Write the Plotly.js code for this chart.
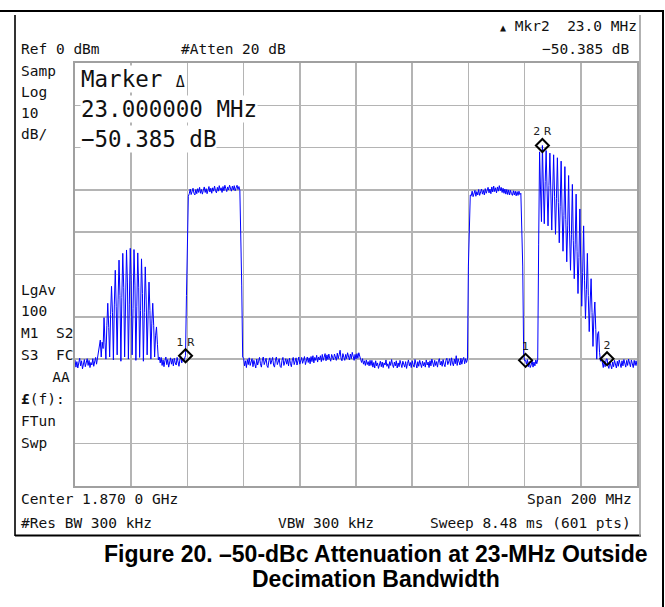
<!DOCTYPE html>
<html><head><meta charset="utf-8">
<script src="https://cdn.plot.ly/plotly-3.0.1.min.js"></script>
<style>html,body{margin:0;padding:0;background:#fff;overflow:hidden}</style>
</head><body><div id="chart" style="width:665px;height:607px"></div>
<script>
// Sweep settings (from the analyzer annotations)
const centerMHz = 1870, spanMHz = 200, sweepPoints = 601;
const refLevelDbm = 0, dbPerDiv = 10;

// Trace levels (dBm), segment by segment along the sweep
const noiseLeft = [-70.2,-71.9,-70.6,-72.1,-70.9,-69.8,-71.6,-70.4,-72.3,-71.0,-70.1,-71.8,-70.7,-69.9,-71.5,-70.3,-72.0,-70.8,-71.4,-69.9,-71.7,-70.5,-69.6,-71.2,-69.5];
const humpLeft = [-69.0,-66.5,-65.5,-69.5,-66.0,-67.5,-60.2,-66.0,-70.0,-62.0,-56.8,-62.5,-69.5,-59.5,-52.8,-59.0,-70.2,-57.0,-49.0,-57.5,-69.0,-56.0,-46.6,-55.0,-70.5,-55.5,-45.0,-53.0,-69.5,-56.5,-44.2,-52.0,-70.0,-57.0,-43.8,-51.5,-69.0,-58.0,-44.1,-52.5,-70.3,-57.5,-44.9,-53.0,-69.6,-58.5,-46.3,-54.5,-70.5,-59.0,-48.2,-56.0,-69.0,-60.0,-51.8,-58.5,-70.0,-61.5,-56.8,-62.0,-69.5,-64.5,-62.4,-66.5,-70.2,-69.5];
const noiseGap1 = [-70.9,-69.6,-71.5,-70.2,-71.8,-70.4,-69.5,-71.3,-70.1,-71.9,-70.6,-69.7,-71.2,-70.0,-71.6,-69.8,-70.9,-71.4,-69.6,-70.8,-71.7,-70.1,-69.4,-70.9,-69.8,-70.5,-69.9];
const riseBand1 = [-69.2,-55.0,-40.5,-31.5];
const plateau1 = [-30.9,-29.8,-31.1,-30.2,-29.6,-30.8,-31.2,-29.9,-30.9,-29.7,
 -30.6,-29.4,-30.8,-29.9,-31.0,-30.1,-29.3,-30.6,-29.7,-30.9,
 -30.0,-29.2,-30.5,-29.6,-30.8,-29.5,-30.3,-29.1,-30.2,-30.7,
 -29.4,-30.3,-29.0,-30.1,-29.5,-30.6,-29.2,-30.2,-28.9,-29.9,
 -30.4,-29.3,-30.0,-28.9,-29.9,-30.3,-29.1,-30.0,-29.0,-30.2,
 -29.5,-28.9,-29.9,-29.2,-30.1];
const fallBand1 = [-40.0,-52.5,-69.5];
const noiseMidA = [-69.8,-71.6,-70.4,-72.0,-70.1,-71.3,-69.7,-71.5,-70.6,-69.9,
 -71.8,-70.3,-71.2,-72.1,-70.0,-71.4,-70.5,-69.6,-71.1,-71.9,
 -70.2,-69.5,-71.3,-70.7,-69.8,-71.6,-72.0,-70.4,-69.7,-71.2,
 -70.5,-69.6,-71.4,-71.9,-70.2,-69.5,-71.3,-70.6,-69.9,-71.7,
 -72.0,-70.3,-69.6,-71.5,-70.8,-69.9,-71.2,-70.1,-71.6,-69.8,
 -71.0,-71.8,-70.2,-69.6,-71.3,-70.5,-69.7,-71.4,-70.0,-69.5,
 -71.2,-70.4,-69.6,-71.0,-70.3,-69.4,-71.3,-70.0,-69.5,-70.8,
 -69.7,-71.1,-69.4,-70.6,-69.2,-70.9,-69.6,-70.3,-69.1,-70.7,
 -69.5,-70.2];
const noiseMidB = [-69.2,-70.6,-68.9,-70.3,-69.5,-68.7,-70.4,-69.0,-70.1,-68.8,
 -69.9,-70.5,-68.9,-69.4,-70.2,-68.8,-69.7,-70.3,-68.6,-69.9,
 -69.0,-67.9,-69.8,-70.4,-68.7,-69.6,-70.3,-68.9,-69.9,-68.5,
 -69.7,-70.2,-68.8,-69.9,-68.4,-69.6,-70.3,-68.9,-70.0,-68.7,
 -69.8,-68.5,-69.6,-70.1,-70.8,-69.9,-71.2,-70.4,-71.5,-70.2,
 -71.3,-70.6,-71.6,-70.3];
const noiseMidC = [-71.5,-70.3,-71.9,-70.8,-72.1,-70.4,-71.6,-70.9,-72.2,-71.0,
 -70.5,-71.8,-70.7,-72.0,-70.9,-71.4,-70.2,-71.7,-71.1,-72.2,
 -70.6,-71.5,-70.1,-71.3,-72.0,-70.7,-71.6,-70.4,-72.1,-70.9,
 -71.8,-70.3,-71.2,-72.0,-70.5,-71.4,-71.9,-70.6,-72.2,-71.0,
 -70.2,-71.6,-70.8,-72.0,-70.4,-71.3,-71.9,-70.1,-71.5,-72.1,
 -70.6,-71.7,-70.3,-71.2,-72.0,-70.5,-71.6,-70.8,-71.9,-70.2,
 -71.4,-70.7,-72.0,-70.4,-71.6,-70.0,-71.3,-71.8,-70.3,-71.5,
 -70.6,-71.9,-70.4,-69.9,-71.4,-70.5,-71.7,-70.1,-71.2,-71.8,
 -70.3,-69.8,-71.3,-70.7,-69.9,-71.5,-69.7,-70.9,-71.6,-70.0,
 -71.1,-69.2,-71.5,-69.9,-71.0,-71.4,-69.8,-71.2,-70.1,-69.6,
 -71.1,-69.9,-70.8];
const riseBand2 = [-70.0,-48.0,-39.5,-31.2];
const plateau2 = [-31.4,-30.3,-31.6,-30.6,-30.1,-31.5,-30.4,-31.2,-29.9,-31.3,
 -30.2,-29.8,-31.0,-30.1,-31.2,-29.7,-30.8,-30.0,-29.4,-30.7,
 -29.8,-30.9,-29.3,-30.5,-29.1,-30.4,-29.5,-30.7,-29.3,-30.3,
 -29.0,-30.2,-29.4,-30.6,-29.6,-30.8,-29.8,-31.0,-29.9,-31.1,
 -30.0,-31.2,-30.1,-30.9,-31.3,-30.2,-31.2,-30.3,-31.4,-30.4,
 -31.3,-30.3,-31.1];
const fallBand2 = [-30.8,-39.5,-48.0,-69.0,-70.4,-70.3];
const noiseGap2 = [-71.2,-70.1,-71.8,-70.6,-72.0,-71.4,-70.3,-71.9,-70.7,-71.6,-70.2,-71.1,-70.2,-43.0];
const humpRight = [-21.0,-30.0,-37.5,-19.5,-29.5,-38.0,-28.0,-20.7,-30.0,-38.5,
 -29.0,-21.3,-30.5,-39.5,-30.5,-21.7,-31.5,-40.5,-32.0,-22.4,
 -33.0,-42.5,-34.0,-23.2,-35.0,-44.5,-36.0,-24.5,-37.0,-47.0,
 -38.5,-26.6,-40.0,-49.0,-40.5,-28.7,-42.0,-51.0,-43.0,-31.0,
 -44.5,-54.5,-46.0,-34.5,-48.0,-57.5,-49.5,-38.5,-51.5,-60.5,
 -53.5,-45.0,-55.0,-63.5,-56.5,-51.0,-59.0,-67.0,-60.0,-56.5,
 -63.0,-70.0,-64.0,-63.5,-68.4,-70.5];
const noiseRight = [-69.6,-71.4,-72.0,-70.4,-71.8,-70.1,-69.9,-71.5,-72.2,-70.6,
 -71.9,-72.3,-70.7,-71.8,-70.3,-71.6,-72.1,-70.5,-71.7,-70.2,
 -71.4,-72.0,-70.4,-71.6,-70.1,-71.3,-71.9,-70.3,-71.5,-70.0,
 -71.2,-71.8,-70.2,-71.4,-72.0,-70.3,-71.5,-70.4,-71.6];

// Markers: sweep point index of each marker and its label
const markerPoint = [118, 481, 499, 568];
const markerLabel = ['1 R', '1', '2 R', '2'];

const levelDbm = [].concat(noiseLeft, humpLeft, noiseGap1, riseBand1, plateau1, fallBand1,
  noiseMidA, noiseMidB, noiseMidC, riseBand2, plateau2, fallBand2, noiseGap2, humpRight, noiseRight);
const startMHz = centerMHz - spanMHz / 2;
const freqMHz = levelDbm.map((_, i) => startMHz + i * spanMHz / (sweepPoints - 1));

// pixel helpers for text / frame placement
const PL = 75, PR = 637, PT = 63, PB = 486;
const fx = px => (px - PL) / (PR - PL);
const fy = py => (PB - py) / (PB - PT);

const mono = 'DejaVu Sans Mono, Liberation Mono, monospace';
const ann = (text, px, py, anchor, size, extra) => Object.assign({
  text, x: fx(px), y: fy(py), xref: 'paper', yref: 'paper',
  xanchor: anchor, yanchor: 'middle', showarrow: false,
  font: { family: mono, size: size || 14.5, color: '#111' }
}, extra || {});
const nb = s => s.replace(/ /g, '\u00a0');
const capFont = { family: 'Liberation Sans, Arial, sans-serif', size: 23, color: '#000' };

const annotations = [
  ann('<span style="font-size:10px">▲</span>' + nb(' Mkr2  23.0 MHz'), 639, 26, 'right'),
  ann(nb('−50.385 dB'), 632, 49, 'right'),
  ann(nb('Ref 0 dBm'), 19, 49, 'left'),
  ann(nb('#Atten 20 dB'), 179, 49, 'left'),
  ann('Samp', 19, 71, 'left'),
  ann('Log', 19, 92, 'left'),
  ann('10', 19, 113, 'left'),
  ann('dB/', 19, 134, 'left'),
  ann('LgAv', 19, 290, 'left'),
  ann('100', 19, 311, 'left'),
  ann(nb('M1  S2'), 19, 333, 'left'),
  ann(nb('S3  FC'), 19, 355, 'left'),
  ann(nb('   AA'), 24, 377, 'left'),
  ann('<b>£</b>(f):', 19, 399, 'left'),
  ann('FTun', 19, 421, 'left'),
  ann('Swp', 19, 443, 'left'),
  ann(nb('Marker ') + '<span style="font-size:15px">Δ</span>', 80, 79, 'left', 22.5, { bgcolor: '#fff', borderpad: 0 }),
  ann(nb('23.000000 MHz'), 80, 109, 'left', 22.5, { bgcolor: '#fff', borderpad: 0 }),
  ann(nb('−50.385 dB'), 80, 139, 'left', 22.5, { bgcolor: '#fff', borderpad: 0 }),
  ann(nb('Center 1.870 0 GHz'), 19, 499, 'left'),
  ann(nb('Span 200 MHz'), 634, 499, 'right'),
  ann(nb('#Res BW 300 kHz'), 19, 523, 'left'),
  ann(nb('VBW 300 kHz'), 276, 523, 'left'),
  ann(nb('Sweep 8.48 ms (601 pts)'), 633, 523, 'right'),
  ann('<b>Figure 20. –50-dBc Attenuation at 23-MHz Outside</b>', 376, 554, 'center', 23, { font: capFont }),
  ann('<b>Decimation Bandwidth</b>', 376, 579, 'center', 23, { font: capFont })
];

const line = (x0, y0, x1, y1, color, width) => ({
  type: 'line', xref: 'paper', yref: 'paper', layer: 'above',
  x0: fx(x0), y0: fy(y0), x1: fx(x1), y1: fy(y1),
  line: { color, width }
});
const shapes = [
  line(0, 11, 664, 11, '#000', 2),
  line(663, 11, 663, 607, '#000', 2),
  line(15, 15, 15, 536, '#333', 2),
  line(15, 535.5, 641, 535.5, '#000', 2),
  line(640, 15, 640, 536, '#999', 1.5)
];

const traces = [
  {
    x: freqMHz, y: levelDbm, type: 'scatter', mode: 'lines',
    line: { color: '#0000ff', width: 1 }, hoverinfo: 'skip'
  },
  {
    x: markerPoint.map(i => freqMHz[i]), y: markerPoint.map(i => levelDbm[i]),
    text: markerLabel, type: 'scatter', mode: 'markers+text', textposition: 'top center',
    textfont: { family: 'DejaVu Sans, sans-serif', size: 11, color: '#222' },
    marker: { symbol: 'diamond-open', size: 10, color: '#000', line: { width: 2, color: '#000' } },
    cliponaxis: false
  }
];

const axisCommon = {
  showticklabels: false, ticks: '', zeroline: false,
  showgrid: true, gridcolor: '#b4b4b4', gridwidth: 1.5,
  showline: true, mirror: true, linecolor: '#a0a0a0', linewidth: 2
};
const layout = {
  width: 665, height: 607,
  margin: { l: PL, r: 665 - PR, t: PT, b: 607 - PB, pad: 0 },
  paper_bgcolor: '#fff', plot_bgcolor: '#fff',
  showlegend: false,
  xaxis: Object.assign({ range: [startMHz, startMHz + spanMHz], dtick: spanMHz / 10, tick0: startMHz }, axisCommon),
  yaxis: Object.assign({ range: [refLevelDbm - 10 * dbPerDiv, refLevelDbm], dtick: dbPerDiv, tick0: refLevelDbm }, axisCommon),
  annotations, shapes
};
Plotly.newPlot('chart', traces, layout, { staticPlot: true, displayModeBar: false });
</script>
</body></html>
